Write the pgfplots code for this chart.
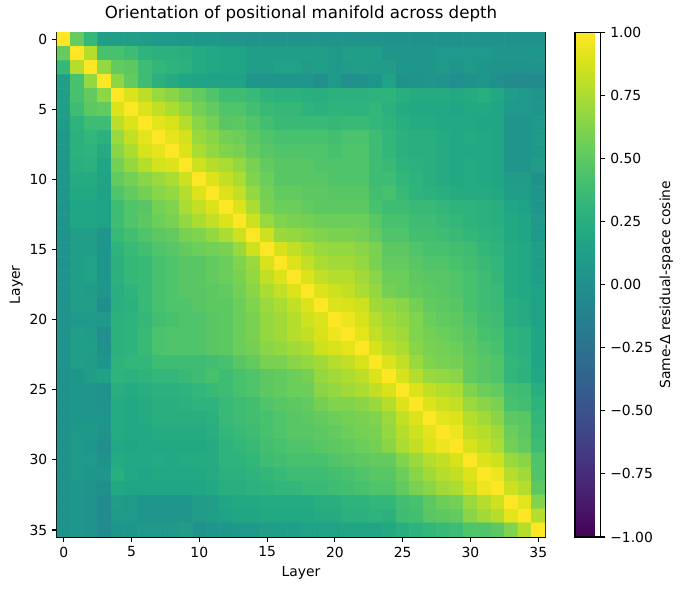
\documentclass[border=0pt]{standalone}
\usepackage{fontspec}
\setmainfont{DejaVu Sans}
\usepackage{pgfplots}
\pgfplotsset{compat=1.18}
\begin{document}
\begin{tikzpicture}
\useasboundingbox (-41pt,-38.2pt) rectangle (450pt,386.6pt);
\begin{axis}[
  name=ax, at={(0,0)}, anchor=south west,
  scale only axis, width=351.4pt, height=363.2pt,
  xmin=-0.5, xmax=35.5, ymin=-0.5, ymax=35.5,
  y dir=reverse,
  xtick={0,5,10,15,20,25,30,35}, ytick={0,5,10,15,20,25,30,35},
  tick align=outside, tick pos=left,
  major tick length=3.5pt,
  every tick/.style={black, line width=0.8pt},
  axis line style={line width=0.8pt},
  xlabel={Layer}, ylabel={Layer},
  xlabel style={yshift=0pt},
  ylabel style={yshift=-2pt},
  title={Orientation of positional manifold across depth},
  title style={font=\fontsize{12}{14.4}\selectfont, yshift=-2pt},
  /pgf/number format/assume math mode=true,
  colormap/viridis,
  point meta min=-1, point meta max=1,
  colorbar,
  colorbar style={
    at={(parent axis.north east)}, anchor=north west, xshift=13pt,
    width=18.4pt,
    ytick={-1,-0.75,-0.5,-0.25,0,0.25,0.5,0.75,1},
    yticklabels={−1.00,−0.75,−0.50,−0.25,0.00,0.25,0.50,0.75,1.00},
    ytick pos=right, yticklabel pos=right,
    ylabel={Same-Δ residual-space cosine},
    ylabel style={yshift=2pt},
    tick align=outside, major tick length=3.5pt,
    every tick/.style={black, line width=0.8pt},
    axis line style={line width=0.8pt},
  },
]
\addplot[matrix plot*, mesh/cols=36, point meta=explicit] table[row sep=\\, meta=c] {
x y c\\
0 0 1.00\\1 0 0.53\\2 0 0.33\\3 0 0.12\\4 0 0.12\\5 0 0.12\\6 0 0.10\\7 0 0.08\\8 0 0.08\\9 0 0.06\\10 0 0.06\\11 0 0.06\\12 0 0.04\\13 0 0.04\\14 0 0.03\\15 0 0.03\\16 0 0.03\\17 0 0.03\\18 0 0.03\\19 0 0.03\\20 0 0.03\\21 0 0.03\\22 0 0.03\\23 0 0.03\\24 0 0.02\\25 0 0.02\\26 0 0.02\\27 0 0.02\\28 0 0.02\\29 0 0.02\\30 0 0.02\\31 0 0.02\\32 0 0.02\\33 0 0.02\\34 0 0.02\\35 0 0.02\\
0 1 0.53\\1 1 1.00\\2 1 0.78\\3 1 0.42\\4 1 0.42\\5 1 0.38\\6 1 0.30\\7 1 0.27\\8 1 0.27\\9 1 0.25\\10 1 0.22\\11 1 0.20\\12 1 0.18\\13 1 0.18\\14 1 0.12\\15 1 0.12\\16 1 0.12\\17 1 0.12\\18 1 0.12\\19 1 0.12\\20 1 0.08\\21 1 0.12\\22 1 0.12\\23 1 0.12\\24 1 0.05\\25 1 0.05\\26 1 0.05\\27 1 0.05\\28 1 0.08\\29 1 0.08\\30 1 0.08\\31 1 0.08\\32 1 0.05\\33 1 0.05\\34 1 0.05\\35 1 0.05\\
0 2 0.33\\1 2 0.78\\2 2 1.00\\3 2 0.68\\4 2 0.52\\5 2 0.50\\6 2 0.38\\7 2 0.32\\8 2 0.30\\9 2 0.27\\10 2 0.22\\11 2 0.20\\12 2 0.18\\13 2 0.18\\14 2 0.12\\15 2 0.12\\16 2 0.15\\17 2 0.15\\18 2 0.10\\19 2 0.12\\20 2 0.08\\21 2 0.10\\22 2 0.12\\23 2 0.10\\24 2 0.10\\25 2 0.05\\26 2 0.05\\27 2 0.05\\28 2 0.08\\29 2 0.05\\30 2 0.08\\31 2 0.05\\32 2 0.03\\33 2 0.03\\34 2 0.03\\35 2 0.03\\
0 3 0.12\\1 3 0.42\\2 3 0.68\\3 3 1.00\\4 3 0.66\\5 3 0.52\\6 3 0.38\\7 3 0.28\\8 3 0.22\\9 3 0.18\\10 3 0.17\\11 3 0.15\\12 3 0.15\\13 3 0.15\\14 3 0.05\\15 3 0.05\\16 3 0.05\\17 3 0.05\\18 3 0.05\\19 3 0.00\\20 3 0.08\\21 3 -0.02\\22 3 0.02\\23 3 0.05\\24 3 0.15\\25 3 0.02\\26 3 0.03\\27 3 0.05\\28 3 0.03\\29 3 -0.02\\30 3 0.02\\31 3 0.05\\32 3 0.00\\33 3 -0.05\\34 3 -0.05\\35 3 -0.05\\
0 4 0.12\\1 4 0.42\\2 4 0.52\\3 4 0.66\\4 4 1.00\\5 4 0.90\\6 4 0.80\\7 4 0.70\\8 4 0.65\\9 4 0.58\\10 4 0.52\\11 4 0.45\\12 4 0.38\\13 4 0.38\\14 4 0.35\\15 4 0.30\\16 4 0.28\\17 4 0.28\\18 4 0.25\\19 4 0.25\\20 4 0.28\\21 4 0.28\\22 4 0.28\\23 4 0.30\\24 4 0.30\\25 4 0.25\\26 4 0.22\\27 4 0.22\\28 4 0.22\\29 4 0.20\\30 4 0.22\\31 4 0.25\\32 4 0.20\\33 4 0.10\\34 4 0.08\\35 4 0.05\\
0 5 0.12\\1 5 0.38\\2 5 0.50\\3 5 0.52\\4 5 0.90\\5 5 1.00\\6 5 0.90\\7 5 0.82\\8 5 0.75\\9 5 0.68\\10 5 0.58\\11 5 0.52\\12 5 0.45\\13 5 0.45\\14 5 0.40\\15 5 0.35\\16 5 0.33\\17 5 0.33\\18 5 0.30\\19 5 0.28\\20 5 0.30\\21 5 0.30\\22 5 0.30\\23 5 0.32\\24 5 0.28\\25 5 0.22\\26 5 0.20\\27 5 0.20\\28 5 0.20\\29 5 0.18\\30 5 0.20\\31 5 0.20\\32 5 0.18\\33 5 0.08\\34 5 0.08\\35 5 0.05\\
0 6 0.10\\1 6 0.30\\2 6 0.38\\3 6 0.38\\4 6 0.80\\5 6 0.90\\6 6 1.00\\7 6 0.92\\8 6 0.88\\9 6 0.78\\10 6 0.65\\11 6 0.58\\12 6 0.48\\13 6 0.50\\14 6 0.45\\15 6 0.40\\16 6 0.35\\17 6 0.35\\18 6 0.35\\19 6 0.35\\20 6 0.33\\21 6 0.35\\22 6 0.35\\23 6 0.32\\24 6 0.30\\25 6 0.25\\26 6 0.22\\27 6 0.22\\28 6 0.20\\29 6 0.20\\30 6 0.20\\31 6 0.18\\32 6 0.18\\33 6 0.05\\34 6 0.05\\35 6 0.08\\
0 7 0.08\\1 7 0.27\\2 7 0.32\\3 7 0.28\\4 7 0.70\\5 7 0.82\\6 7 0.92\\7 7 1.00\\8 7 0.93\\9 7 0.87\\10 7 0.70\\11 7 0.65\\12 7 0.58\\13 7 0.55\\14 7 0.50\\15 7 0.45\\16 7 0.42\\17 7 0.42\\18 7 0.42\\19 7 0.42\\20 7 0.40\\21 7 0.43\\22 7 0.43\\23 7 0.38\\24 7 0.32\\25 7 0.28\\26 7 0.25\\27 7 0.25\\28 7 0.22\\29 7 0.20\\30 7 0.22\\31 7 0.20\\32 7 0.18\\33 7 0.05\\34 7 0.05\\35 7 0.08\\
0 8 0.08\\1 8 0.27\\2 8 0.30\\3 8 0.22\\4 8 0.65\\5 8 0.75\\6 8 0.88\\7 8 0.93\\8 8 1.00\\9 8 0.90\\10 8 0.75\\11 8 0.68\\12 8 0.62\\13 8 0.60\\14 8 0.52\\15 8 0.48\\16 8 0.45\\17 8 0.45\\18 8 0.45\\19 8 0.45\\20 8 0.42\\21 8 0.45\\22 8 0.45\\23 8 0.38\\24 8 0.32\\25 8 0.28\\26 8 0.25\\27 8 0.25\\28 8 0.22\\29 8 0.20\\30 8 0.20\\31 8 0.20\\32 8 0.18\\33 8 0.05\\34 8 0.05\\35 8 0.08\\
0 9 0.06\\1 9 0.25\\2 9 0.27\\3 9 0.18\\4 9 0.58\\5 9 0.68\\6 9 0.78\\7 9 0.87\\8 9 0.90\\9 9 1.00\\10 9 0.85\\11 9 0.78\\12 9 0.75\\13 9 0.68\\14 9 0.60\\15 9 0.52\\16 9 0.48\\17 9 0.48\\18 9 0.48\\19 9 0.45\\20 9 0.45\\21 9 0.45\\22 9 0.45\\23 9 0.38\\24 9 0.35\\25 9 0.30\\26 9 0.28\\27 9 0.25\\28 9 0.22\\29 9 0.20\\30 9 0.22\\31 9 0.20\\32 9 0.18\\33 9 0.05\\34 9 0.05\\35 9 0.10\\
0 10 0.06\\1 10 0.22\\2 10 0.22\\3 10 0.17\\4 10 0.52\\5 10 0.58\\6 10 0.65\\7 10 0.70\\8 10 0.75\\9 10 0.85\\10 10 1.00\\11 10 0.90\\12 10 0.82\\13 10 0.75\\14 10 0.62\\15 10 0.55\\16 10 0.48\\17 10 0.48\\18 10 0.48\\19 10 0.48\\20 10 0.45\\21 10 0.45\\22 10 0.45\\23 10 0.38\\24 10 0.38\\25 10 0.32\\26 10 0.30\\27 10 0.25\\28 10 0.22\\29 10 0.20\\30 10 0.22\\31 10 0.20\\32 10 0.18\\33 10 0.10\\34 10 0.10\\35 10 0.02\\
0 11 0.06\\1 11 0.20\\2 11 0.20\\3 11 0.15\\4 11 0.45\\5 11 0.52\\6 11 0.58\\7 11 0.65\\8 11 0.68\\9 11 0.78\\10 11 0.90\\11 11 1.00\\12 11 0.90\\13 11 0.82\\14 11 0.68\\15 11 0.58\\16 11 0.52\\17 11 0.52\\18 11 0.50\\19 11 0.50\\20 11 0.48\\21 11 0.48\\22 11 0.48\\23 11 0.40\\24 11 0.42\\25 11 0.35\\26 11 0.30\\27 11 0.28\\28 11 0.25\\29 11 0.22\\30 11 0.22\\31 11 0.22\\32 11 0.20\\33 11 0.12\\34 11 0.12\\35 11 0.05\\
0 12 0.04\\1 12 0.18\\2 12 0.18\\3 12 0.15\\4 12 0.38\\5 12 0.45\\6 12 0.48\\7 12 0.58\\8 12 0.62\\9 12 0.75\\10 12 0.82\\11 12 0.90\\12 12 1.00\\13 12 0.90\\14 12 0.75\\15 12 0.60\\16 12 0.55\\17 12 0.55\\18 12 0.52\\19 12 0.50\\20 12 0.50\\21 12 0.50\\22 12 0.50\\23 12 0.42\\24 12 0.38\\25 12 0.38\\26 12 0.35\\27 12 0.35\\28 12 0.32\\29 12 0.30\\30 12 0.30\\31 12 0.28\\32 12 0.25\\33 12 0.18\\34 12 0.15\\35 12 0.05\\
0 13 0.04\\1 13 0.18\\2 13 0.18\\3 13 0.15\\4 13 0.38\\5 13 0.45\\6 13 0.50\\7 13 0.55\\8 13 0.60\\9 13 0.68\\10 13 0.75\\11 13 0.82\\12 13 0.90\\13 13 1.00\\14 13 0.85\\15 13 0.70\\16 13 0.62\\17 13 0.60\\18 13 0.58\\19 13 0.55\\20 13 0.55\\21 13 0.55\\22 13 0.55\\23 13 0.48\\24 13 0.42\\25 13 0.42\\26 13 0.38\\27 13 0.38\\28 13 0.35\\29 13 0.32\\30 13 0.30\\31 13 0.28\\32 13 0.25\\33 13 0.20\\34 13 0.18\\35 13 0.08\\
0 14 0.03\\1 14 0.12\\2 14 0.12\\3 14 0.05\\4 14 0.35\\5 14 0.40\\6 14 0.45\\7 14 0.50\\8 14 0.52\\9 14 0.60\\10 14 0.62\\11 14 0.68\\12 14 0.75\\13 14 0.85\\14 14 1.00\\15 14 0.85\\16 14 0.70\\17 14 0.68\\18 14 0.65\\19 14 0.62\\20 14 0.60\\21 14 0.60\\22 14 0.58\\23 14 0.52\\24 14 0.45\\25 14 0.45\\26 14 0.40\\27 14 0.40\\28 14 0.38\\29 14 0.35\\30 14 0.32\\31 14 0.30\\32 14 0.28\\33 14 0.20\\34 14 0.18\\35 14 0.08\\
0 15 0.03\\1 15 0.12\\2 15 0.12\\3 15 0.05\\4 15 0.30\\5 15 0.35\\6 15 0.40\\7 15 0.45\\8 15 0.48\\9 15 0.52\\10 15 0.55\\11 15 0.58\\12 15 0.60\\13 15 0.70\\14 15 0.85\\15 15 1.00\\16 15 0.88\\17 15 0.82\\18 15 0.75\\19 15 0.70\\20 15 0.68\\21 15 0.68\\22 15 0.65\\23 15 0.60\\24 15 0.50\\25 15 0.50\\26 15 0.45\\27 15 0.42\\28 15 0.42\\29 15 0.40\\30 15 0.38\\31 15 0.32\\32 15 0.30\\33 15 0.22\\34 15 0.20\\35 15 0.12\\
0 16 0.03\\1 16 0.12\\2 16 0.15\\3 16 0.05\\4 16 0.28\\5 16 0.33\\6 16 0.35\\7 16 0.42\\8 16 0.45\\9 16 0.48\\10 16 0.48\\11 16 0.52\\12 16 0.55\\13 16 0.62\\14 16 0.70\\15 16 0.88\\16 16 1.00\\17 16 0.90\\18 16 0.82\\19 16 0.75\\20 16 0.72\\21 16 0.72\\22 16 0.68\\23 16 0.60\\24 16 0.52\\25 16 0.52\\26 16 0.48\\27 16 0.45\\28 16 0.45\\29 16 0.42\\30 16 0.40\\31 16 0.35\\32 16 0.32\\33 16 0.22\\34 16 0.20\\35 16 0.12\\
0 17 0.03\\1 17 0.12\\2 17 0.15\\3 17 0.05\\4 17 0.28\\5 17 0.33\\6 17 0.35\\7 17 0.42\\8 17 0.45\\9 17 0.48\\10 17 0.48\\11 17 0.52\\12 17 0.55\\13 17 0.60\\14 17 0.68\\15 17 0.82\\16 17 0.90\\17 17 1.00\\18 17 0.90\\19 17 0.82\\20 17 0.78\\21 17 0.78\\22 17 0.72\\23 17 0.65\\24 17 0.55\\25 17 0.55\\26 17 0.50\\27 17 0.48\\28 17 0.48\\29 17 0.45\\30 17 0.42\\31 17 0.38\\32 17 0.32\\33 17 0.22\\34 17 0.20\\35 17 0.12\\
0 18 0.03\\1 18 0.12\\2 18 0.10\\3 18 0.05\\4 18 0.25\\5 18 0.30\\6 18 0.35\\7 18 0.42\\8 18 0.45\\9 18 0.48\\10 18 0.48\\11 18 0.50\\12 18 0.52\\13 18 0.58\\14 18 0.65\\15 18 0.75\\16 18 0.82\\17 18 0.90\\18 18 1.00\\19 18 0.90\\20 18 0.85\\21 18 0.82\\22 18 0.75\\23 18 0.68\\24 18 0.58\\25 18 0.55\\26 18 0.52\\27 18 0.50\\28 18 0.48\\29 18 0.45\\30 18 0.42\\31 18 0.38\\32 18 0.35\\33 18 0.22\\34 18 0.20\\35 18 0.15\\
0 19 0.03\\1 19 0.12\\2 19 0.12\\3 19 0.00\\4 19 0.25\\5 19 0.28\\6 19 0.35\\7 19 0.42\\8 19 0.45\\9 19 0.45\\10 19 0.48\\11 19 0.50\\12 19 0.50\\13 19 0.55\\14 19 0.62\\15 19 0.70\\16 19 0.75\\17 19 0.82\\18 19 0.90\\19 19 1.00\\20 19 0.90\\21 19 0.88\\22 19 0.85\\23 19 0.72\\24 19 0.68\\25 19 0.65\\26 19 0.58\\27 19 0.52\\28 19 0.50\\29 19 0.48\\30 19 0.42\\31 19 0.38\\32 19 0.35\\33 19 0.25\\34 19 0.22\\35 19 0.15\\
0 20 0.03\\1 20 0.08\\2 20 0.08\\3 20 0.08\\4 20 0.28\\5 20 0.30\\6 20 0.33\\7 20 0.40\\8 20 0.42\\9 20 0.45\\10 20 0.45\\11 20 0.48\\12 20 0.50\\13 20 0.55\\14 20 0.60\\15 20 0.68\\16 20 0.72\\17 20 0.78\\18 20 0.85\\19 20 0.90\\20 20 1.00\\21 20 0.95\\22 20 0.88\\23 20 0.78\\24 20 0.72\\25 20 0.68\\26 20 0.62\\27 20 0.55\\28 20 0.52\\29 20 0.50\\30 20 0.45\\31 20 0.40\\32 20 0.38\\33 20 0.25\\34 20 0.22\\35 20 0.15\\
0 21 0.03\\1 21 0.12\\2 21 0.10\\3 21 -0.02\\4 21 0.28\\5 21 0.30\\6 21 0.35\\7 21 0.43\\8 21 0.45\\9 21 0.45\\10 21 0.45\\11 21 0.48\\12 21 0.50\\13 21 0.55\\14 21 0.60\\15 21 0.68\\16 21 0.72\\17 21 0.78\\18 21 0.82\\19 21 0.88\\20 21 0.95\\21 21 1.00\\22 21 0.92\\23 21 0.82\\24 21 0.75\\25 21 0.72\\26 21 0.62\\27 21 0.58\\28 21 0.55\\29 21 0.52\\30 21 0.48\\31 21 0.42\\32 21 0.40\\33 21 0.30\\34 21 0.28\\35 21 0.18\\
0 22 0.03\\1 22 0.12\\2 22 0.12\\3 22 0.02\\4 22 0.28\\5 22 0.30\\6 22 0.35\\7 22 0.43\\8 22 0.45\\9 22 0.45\\10 22 0.45\\11 22 0.48\\12 22 0.50\\13 22 0.55\\14 22 0.58\\15 22 0.65\\16 22 0.68\\17 22 0.72\\18 22 0.75\\19 22 0.85\\20 22 0.88\\21 22 0.92\\22 22 1.00\\23 22 0.88\\24 22 0.80\\25 22 0.75\\26 22 0.65\\27 22 0.60\\28 22 0.58\\29 22 0.55\\30 22 0.50\\31 22 0.45\\32 22 0.42\\33 22 0.30\\34 22 0.28\\35 22 0.18\\
0 23 0.03\\1 23 0.12\\2 23 0.10\\3 23 0.05\\4 23 0.30\\5 23 0.32\\6 23 0.32\\7 23 0.38\\8 23 0.38\\9 23 0.38\\10 23 0.38\\11 23 0.40\\12 23 0.42\\13 23 0.48\\14 23 0.52\\15 23 0.60\\16 23 0.60\\17 23 0.65\\18 23 0.68\\19 23 0.72\\20 23 0.78\\21 23 0.82\\22 23 0.88\\23 23 1.00\\24 23 0.90\\25 23 0.82\\26 23 0.70\\27 23 0.62\\28 23 0.60\\29 23 0.58\\30 23 0.52\\31 23 0.48\\32 23 0.45\\33 23 0.32\\34 23 0.30\\35 23 0.18\\
0 24 0.02\\1 24 0.05\\2 24 0.10\\3 24 0.15\\4 24 0.30\\5 24 0.28\\6 24 0.30\\7 24 0.32\\8 24 0.32\\9 24 0.35\\10 24 0.38\\11 24 0.42\\12 24 0.38\\13 24 0.42\\14 24 0.45\\15 24 0.50\\16 24 0.52\\17 24 0.55\\18 24 0.58\\19 24 0.68\\20 24 0.72\\21 24 0.75\\22 24 0.80\\23 24 0.90\\24 24 1.00\\25 24 0.88\\26 24 0.78\\27 24 0.70\\28 24 0.68\\29 24 0.65\\30 24 0.52\\31 24 0.48\\32 24 0.45\\33 24 0.32\\34 24 0.28\\35 24 0.20\\
0 25 0.02\\1 25 0.05\\2 25 0.05\\3 25 0.02\\4 25 0.25\\5 25 0.22\\6 25 0.25\\7 25 0.28\\8 25 0.28\\9 25 0.30\\10 25 0.32\\11 25 0.35\\12 25 0.38\\13 25 0.42\\14 25 0.45\\15 25 0.50\\16 25 0.52\\17 25 0.55\\18 25 0.55\\19 25 0.65\\20 25 0.68\\21 25 0.72\\22 25 0.75\\23 25 0.82\\24 25 0.88\\25 25 1.00\\26 25 0.90\\27 25 0.82\\28 25 0.78\\29 25 0.75\\30 25 0.62\\31 25 0.55\\32 25 0.52\\33 25 0.40\\34 25 0.38\\35 25 0.25\\
0 26 0.02\\1 26 0.05\\2 26 0.05\\3 26 0.03\\4 26 0.22\\5 26 0.20\\6 26 0.22\\7 26 0.25\\8 26 0.25\\9 26 0.28\\10 26 0.30\\11 26 0.30\\12 26 0.35\\13 26 0.38\\14 26 0.40\\15 26 0.45\\16 26 0.48\\17 26 0.50\\18 26 0.52\\19 26 0.58\\20 26 0.62\\21 26 0.62\\22 26 0.65\\23 26 0.70\\24 26 0.78\\25 26 0.90\\26 26 1.00\\27 26 0.90\\28 26 0.85\\29 26 0.82\\30 26 0.70\\31 26 0.65\\32 26 0.60\\33 26 0.42\\34 26 0.40\\35 26 0.30\\
0 27 0.02\\1 27 0.05\\2 27 0.05\\3 27 0.05\\4 27 0.22\\5 27 0.20\\6 27 0.22\\7 27 0.25\\8 27 0.25\\9 27 0.25\\10 27 0.25\\11 27 0.28\\12 27 0.35\\13 27 0.38\\14 27 0.40\\15 27 0.42\\16 27 0.45\\17 27 0.48\\18 27 0.50\\19 27 0.52\\20 27 0.55\\21 27 0.58\\22 27 0.60\\23 27 0.62\\24 27 0.70\\25 27 0.82\\26 27 0.90\\27 27 1.00\\28 27 0.92\\29 27 0.90\\30 27 0.78\\31 27 0.72\\32 27 0.65\\33 27 0.50\\34 27 0.48\\35 27 0.32\\
0 28 0.02\\1 28 0.08\\2 28 0.08\\3 28 0.03\\4 28 0.22\\5 28 0.20\\6 28 0.20\\7 28 0.22\\8 28 0.22\\9 28 0.22\\10 28 0.22\\11 28 0.25\\12 28 0.32\\13 28 0.35\\14 28 0.38\\15 28 0.42\\16 28 0.45\\17 28 0.48\\18 28 0.48\\19 28 0.50\\20 28 0.52\\21 28 0.55\\22 28 0.58\\23 28 0.60\\24 28 0.68\\25 28 0.78\\26 28 0.85\\27 28 0.92\\28 28 1.00\\29 28 0.95\\30 28 0.82\\31 28 0.78\\32 28 0.72\\33 28 0.55\\34 28 0.50\\35 28 0.35\\
0 29 0.02\\1 29 0.08\\2 29 0.05\\3 29 -0.02\\4 29 0.20\\5 29 0.18\\6 29 0.20\\7 29 0.20\\8 29 0.20\\9 29 0.20\\10 29 0.20\\11 29 0.22\\12 29 0.30\\13 29 0.32\\14 29 0.35\\15 29 0.40\\16 29 0.42\\17 29 0.45\\18 29 0.45\\19 29 0.48\\20 29 0.50\\21 29 0.52\\22 29 0.55\\23 29 0.58\\24 29 0.65\\25 29 0.75\\26 29 0.82\\27 29 0.90\\28 29 0.95\\29 29 1.00\\30 29 0.88\\31 29 0.82\\32 29 0.75\\33 29 0.58\\34 29 0.52\\35 29 0.38\\
0 30 0.02\\1 30 0.08\\2 30 0.08\\3 30 0.02\\4 30 0.22\\5 30 0.20\\6 30 0.20\\7 30 0.22\\8 30 0.20\\9 30 0.22\\10 30 0.22\\11 30 0.22\\12 30 0.30\\13 30 0.30\\14 30 0.32\\15 30 0.38\\16 30 0.40\\17 30 0.42\\18 30 0.42\\19 30 0.42\\20 30 0.45\\21 30 0.48\\22 30 0.50\\23 30 0.52\\24 30 0.52\\25 30 0.62\\26 30 0.70\\27 30 0.78\\28 30 0.82\\29 30 0.88\\30 30 1.00\\31 30 0.90\\32 30 0.85\\33 30 0.70\\34 30 0.65\\35 30 0.45\\
0 31 0.02\\1 31 0.08\\2 31 0.05\\3 31 0.05\\4 31 0.25\\5 31 0.20\\6 31 0.18\\7 31 0.20\\8 31 0.20\\9 31 0.20\\10 31 0.20\\11 31 0.22\\12 31 0.28\\13 31 0.28\\14 31 0.30\\15 31 0.32\\16 31 0.35\\17 31 0.38\\18 31 0.38\\19 31 0.38\\20 31 0.40\\21 31 0.42\\22 31 0.45\\23 31 0.48\\24 31 0.48\\25 31 0.55\\26 31 0.65\\27 31 0.72\\28 31 0.78\\29 31 0.82\\30 31 0.90\\31 31 1.00\\32 31 0.95\\33 31 0.78\\34 31 0.72\\35 31 0.45\\
0 32 0.02\\1 32 0.05\\2 32 0.03\\3 32 0.00\\4 32 0.20\\5 32 0.18\\6 32 0.18\\7 32 0.18\\8 32 0.18\\9 32 0.18\\10 32 0.18\\11 32 0.20\\12 32 0.25\\13 32 0.25\\14 32 0.28\\15 32 0.30\\16 32 0.32\\17 32 0.32\\18 32 0.35\\19 32 0.35\\20 32 0.38\\21 32 0.40\\22 32 0.42\\23 32 0.45\\24 32 0.45\\25 32 0.52\\26 32 0.60\\27 32 0.65\\28 32 0.72\\29 32 0.75\\30 32 0.85\\31 32 0.95\\32 32 1.00\\33 32 0.85\\34 32 0.78\\35 32 0.50\\
0 33 0.02\\1 33 0.05\\2 33 0.03\\3 33 -0.05\\4 33 0.10\\5 33 0.08\\6 33 0.05\\7 33 0.05\\8 33 0.05\\9 33 0.05\\10 33 0.10\\11 33 0.12\\12 33 0.18\\13 33 0.20\\14 33 0.20\\15 33 0.22\\16 33 0.22\\17 33 0.22\\18 33 0.22\\19 33 0.25\\20 33 0.25\\21 33 0.30\\22 33 0.30\\23 33 0.32\\24 33 0.32\\25 33 0.40\\26 33 0.42\\27 33 0.50\\28 33 0.55\\29 33 0.58\\30 33 0.70\\31 33 0.78\\32 33 0.85\\33 33 1.00\\34 33 0.92\\35 33 0.62\\
0 34 0.02\\1 34 0.05\\2 34 0.03\\3 34 -0.05\\4 34 0.08\\5 34 0.08\\6 34 0.05\\7 34 0.05\\8 34 0.05\\9 34 0.05\\10 34 0.10\\11 34 0.12\\12 34 0.15\\13 34 0.18\\14 34 0.18\\15 34 0.20\\16 34 0.20\\17 34 0.20\\18 34 0.20\\19 34 0.22\\20 34 0.22\\21 34 0.28\\22 34 0.28\\23 34 0.30\\24 34 0.28\\25 34 0.38\\26 34 0.40\\27 34 0.48\\28 34 0.50\\29 34 0.52\\30 34 0.65\\31 34 0.72\\32 34 0.78\\33 34 0.92\\34 34 1.00\\35 34 0.78\\
0 35 0.02\\1 35 0.05\\2 35 0.03\\3 35 -0.05\\4 35 0.05\\5 35 0.05\\6 35 0.08\\7 35 0.08\\8 35 0.08\\9 35 0.10\\10 35 0.02\\11 35 0.05\\12 35 0.05\\13 35 0.08\\14 35 0.08\\15 35 0.12\\16 35 0.12\\17 35 0.12\\18 35 0.15\\19 35 0.15\\20 35 0.15\\21 35 0.18\\22 35 0.18\\23 35 0.18\\24 35 0.20\\25 35 0.25\\26 35 0.30\\27 35 0.32\\28 35 0.35\\29 35 0.38\\30 35 0.45\\31 35 0.45\\32 35 0.50\\33 35 0.62\\34 35 0.78\\35 35 1.00\\
};
\end{axis}
\end{tikzpicture}
\end{document}
